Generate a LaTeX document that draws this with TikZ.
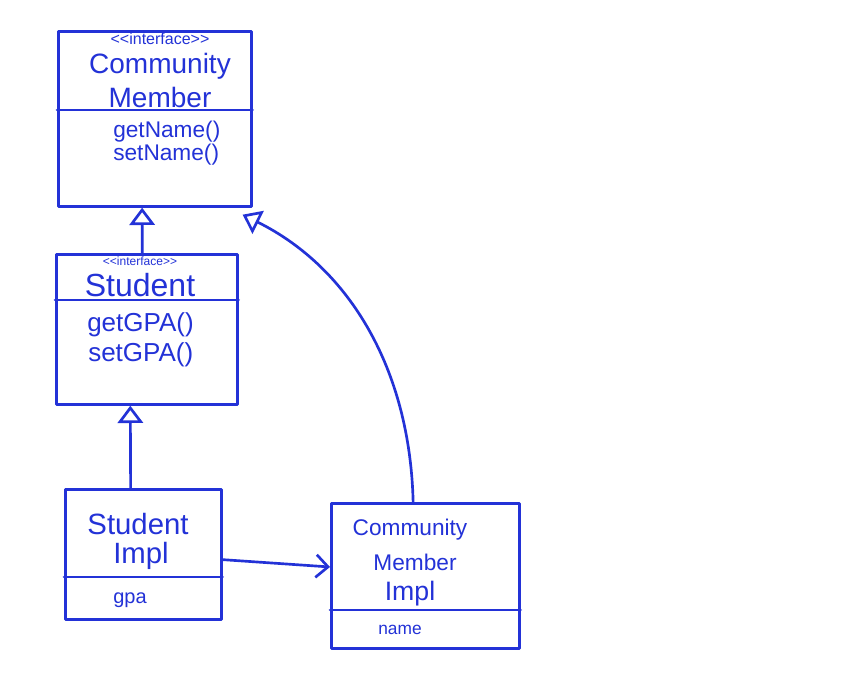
\documentclass[tikz,border=0pt]{standalone}
\usepackage{fontspec}
\setmainfont{Liberation Sans}
\usetikzlibrary{arrows.meta,calc}
\definecolor{ink}{RGB}{35,50,215}
\tikzset{
  ink/.style={draw=ink, line width=2pt, line cap=round, line join=round},
  umlbox/.style={ink, rectangle, inner sep=0pt, anchor=north west},
  txt/.style={text=ink, inner sep=0pt},
  ltxt/.style={txt, anchor=west},
  gen/.style={ink, -{Triangle[open, length=13pt, width=19pt, line width=2pt]}},
  assoc/.style={ink, -{Straight Barb[length=9pt, width=17pt, line width=2pt]}},
}
\newcommand{\fs}[1]{\fontsize{#1}{#1}\selectfont}
\newcommand{\stereo}{{<}{<}interface{>}{>}}
\begin{document}
\begin{tikzpicture}[x=0.75pt,y=-0.75pt]
\useasboundingbox[fill=white] (0,0) rectangle (860,675);
% boxes
\node[umlbox, minimum width=144.75pt, minimum height=131.25pt] (cm) at (57,30) {};
\node[umlbox, minimum width=135.75pt, minimum height=112.5pt] (st) at (55,253) {};
\node[umlbox, minimum width=117pt, minimum height=97.5pt] (si) at (64,488) {};
\node[umlbox, minimum width=141pt, minimum height=108.75pt] (ci) at (330,502) {};
% dividers
\draw[ink] (cm.west |- 0,110) -- (cm.east |- 0,110);
\draw[ink] (st.west |- 0,300) -- (st.east |- 0,300);
\draw[ink] (si.west |- 0,577) -- (si.east |- 0,577);
\draw[ink] (ci.west |- 0,610) -- (ci.east |- 0,610);
% texts CommunityMember
\node[txt] (cm1) at (160,39) {\fs{12}\stereo};
\node[txt] (cm2) at (160,66) {\fs{21}Community};
\node[txt] (cm3) at (160,97) {\fs{21}Member};
\node[ltxt] (cm4) at (113,132) {\fs{17}getName()};
\node[ltxt] (cm5) at (113,155) {\fs{17}setName()};
% Student
\node[txt] (st1) at (140,261) {\fs{9}\stereo};
\node[txt] (st2) at (140,285) {\fs{24}Student};
\node[ltxt] (st3) at (87,325) {\fs{19.5}getGPA()};
\node[ltxt] (st4) at (88,355) {\fs{19.5}setGPA()};
% StudentImpl
\node[txt] (si1) at (138,524) {\fs{22}Student};
\node[txt] (si2) at (141,556) {\fs{22}Impl};
\node[txt] (si3) at (130,600) {\fs{15}gpa};
% CommunityMemberImpl
\node[txt] (ci1) at (410,530) {\fs{17}Community};
\node[txt] (ci2) at (415,562) {\fs{17}Member};
\node[txt] (ci3) at (410,594) {\fs{20}Impl};
\node[txt] (ci4) at (400,630) {\fs{13}name};
% connectors
\draw[gen] ($(st.north west)!0.475!(st.north east)$) -- ($(cm.south west)!0.435!(cm.south east)$);
\draw[gen] ($(si.north west)!0.42!(si.north east)$) -- ($(st.south west)!0.41!(st.south east)$);
\draw[gen] ($(ci.north west)!0.436!(ci.north east)$) .. controls (410,370) and (350,268) .. ($(cm.south east)+(-10,7)$);
\draw[assoc] ($(si.north east)!0.54!(si.south east)$) -- ($(ci.north west)!0.44!(ci.south west)$);
\end{tikzpicture}
\end{document}
